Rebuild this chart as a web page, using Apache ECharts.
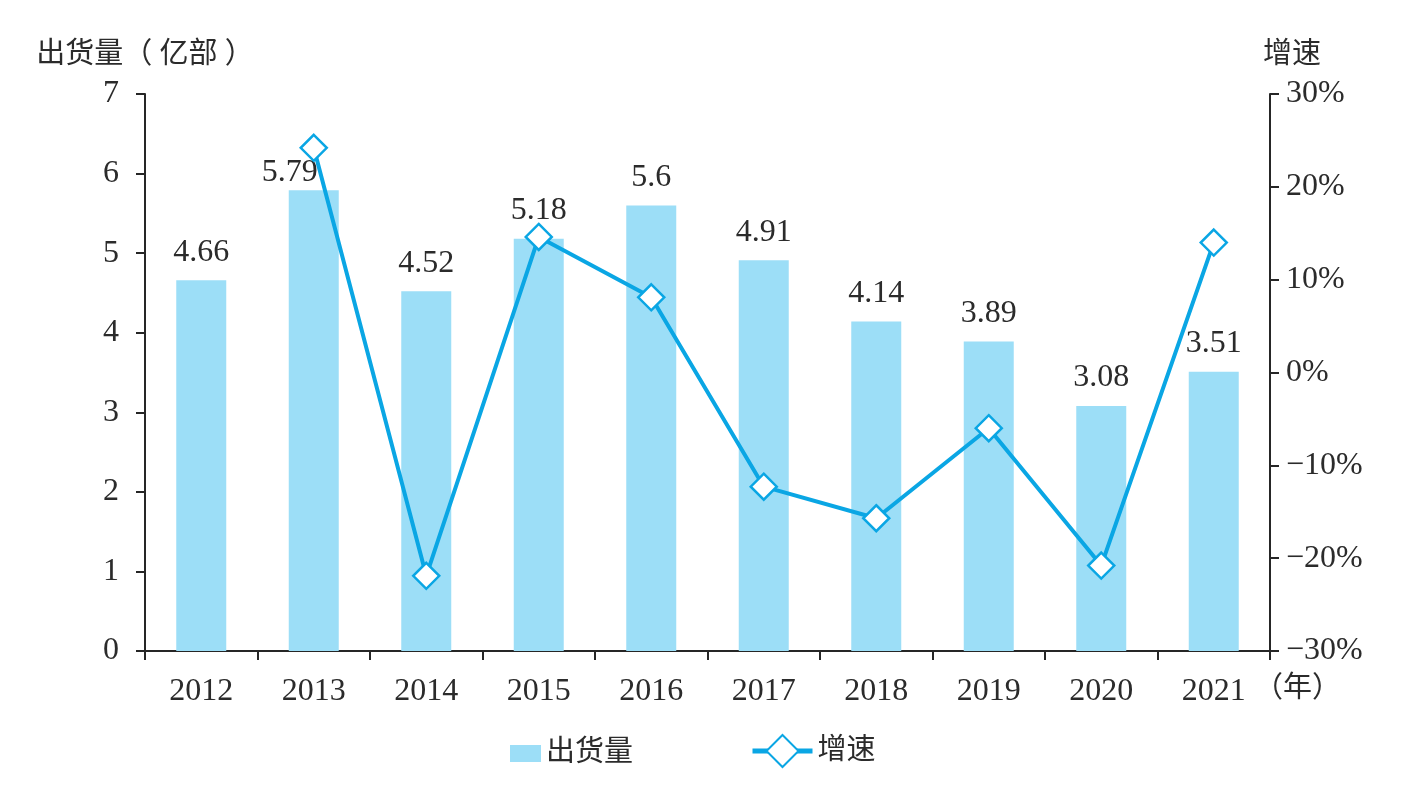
<!DOCTYPE html>
<html>
<head>
<meta charset="utf-8">
<title>出货量</title>
<script src="https://cdn.jsdelivr.net/npm/echarts@6/dist/echarts.min.js"></script>
<style>
    html, body {margin: 0; padding: 0; background: #fff;}
    #main {width: 1419px; height: 789px;}
</style>
</head>
<body>
<div id="main"></div>
<script>
var years = ['2012', '2013', '2014', '2015', '2016', '2017', '2018', '2019', '2020', '2021'];
var shipments = [4.66, 5.79, 4.52, 5.18, 5.6, 4.91, 4.14, 3.89, 3.08, 3.51];
var growth = [null, 24.2, -21.9, 14.6, 8.1, -12.3, -15.7, -6.0, -20.8, 14.0];
var leftTicks = [0, 7, 1];
var rightTicks = [-30, 30, 10];

var font = '"Liberation Serif", "Noto Sans CJK SC", serif';
var textColor = '#2b2b2b';
var axisColor = '#262626';
var lineColor = '#0aa6e4';

//右轴标签用真正的减号
function pct(v) {
    return v < 0 ? '\u2212' + (-v) + '%' : v + '%';
}

//5.79的标签往左下挪，让开折线
var barData = [];
for (var i = 0; i < shipments.length; i++) {
    var item = {value: shipments[i]};
    if (i == 1) item.label = {offset: [-24, 10]};
    barData.push(item);
}

var chart = echarts.init(document.getElementById('main'));
chart.setOption({
    animation: false,
    textStyle: {fontFamily: font, color: textColor},
    grid: {left: 145, right: 149, top: 94, bottom: 138},
    legend: [{
        left: 505, top: 734,
        data: [{name: '出货量', icon: 'rect'}],
        itemWidth: 31, itemHeight: 17,
        textStyle: {fontSize: 29, color: textColor, fontFamily: font}
    }, {
        left: 745, top: 729,
        data: ['增速'],
        itemWidth: 60, itemHeight: 40,
        itemGap: 6,
        lineStyle: {width: 5},
        textStyle: {fontSize: 29, color: textColor, fontFamily: font}
    }],
    xAxis: {
        type: 'category',
        data: years,
        name: '（年）',
        nameLocation: 'end',
        nameGap: -16,
        nameTextStyle: {fontSize: 29, color: textColor, verticalAlign: 'top', padding: [24, 0, 0, 0]},
        axisLine: {lineStyle: {color: axisColor, width: 2}},
        axisTick: {show: true, length: 9, lineStyle: {color: axisColor, width: 2}},
        axisLabel: {fontSize: 32, color: textColor, margin: 25}
    },
    yAxis: [{
        type: 'value',
        min: leftTicks[0], max: leftTicks[1], interval: leftTicks[2],
        name: '出货量（ 亿部 ）',
        nameGap: 24,
        nameTextStyle: {fontSize: 29, color: textColor},
        axisLine: {show: true, lineStyle: {color: axisColor, width: 2}},
        axisTick: {show: true, length: 9, lineStyle: {color: axisColor, width: 2}},
        axisLabel: {fontSize: 32, color: textColor, margin: 26},
        splitLine: {show: false}
    }, {
        type: 'value',
        position: 'right',
        min: rightTicks[0], max: rightTicks[1], interval: rightTicks[2],
        name: '增速',
        nameGap: 24,
        nameTextStyle: {fontSize: 29, color: textColor, padding: [0, 0, 0, 44]},
        axisLine: {show: true, lineStyle: {color: axisColor, width: 2}},
        axisTick: {show: true, length: 9, lineStyle: {color: axisColor, width: 2}},
        axisLabel: {fontSize: 32, color: textColor, margin: 16, formatter: pct},
        splitLine: {show: false}
    }],
    series: [{
        name: '出货量',
        type: 'bar',
        barWidth: 50,
        data: barData,
        itemStyle: {color: '#9cdef7'},
        label: {show: true, position: 'top', distance: 12, fontSize: 32, color: textColor, fontFamily: font}
    }, {
        name: '增速',
        type: 'line',
        yAxisIndex: 1,
        data: growth,
        symbol: 'diamond',
        symbolSize: 26,
        showAllSymbol: true,
        lineStyle: {color: lineColor, width: 4},
        itemStyle: {color: '#fff', borderColor: lineColor, borderWidth: 2.5}
    }]
});
</script>
</body>
</html>
